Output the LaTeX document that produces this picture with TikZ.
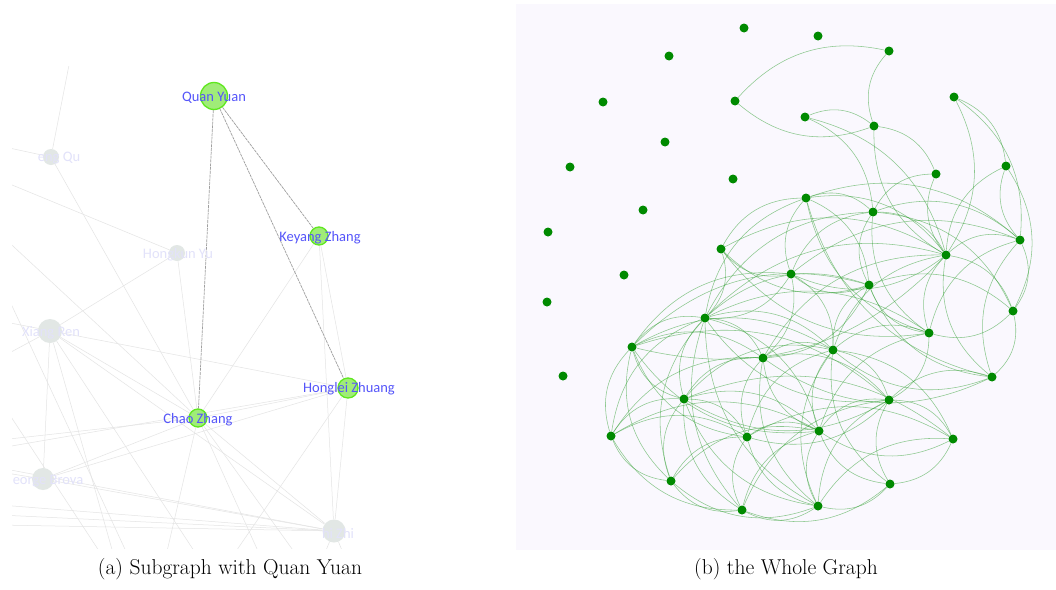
\documentclass[tikz,border=0pt]{standalone}
\usepackage{fontspec}
\newfontfamily\labfont{Carlito}
\pgfdeclarelayer{bg}
\pgfdeclarelayer{eg}
\pgfsetlayers{bg,eg,main}
\definecolor{bgl}{RGB}{250,248,254}
\definecolor{gnode}{RGB}{0,138,0}
\definecolor{gedge}{RGB}{50,160,50}
\definecolor{lgfill}{RGB}{160,236,120}
\definecolor{lgdraw}{RGB}{95,232,30}
\definecolor{labblue}{RGB}{85,85,250}
\definecolor{faintlab}{RGB}{226,226,250}
\definecolor{grayn}{RGB}{226,231,229}
\definecolor{fedge}{RGB}{228,228,228}
\begin{document}
\begin{tikzpicture}[x=1pt,y=-1pt,
  gn/.style={circle,fill=gnode,inner sep=0pt,minimum size=9pt},
  ge/.style={draw=gedge,opacity=0.55,line width=0.55pt},
  activen/.style={circle,fill=lgfill,draw=lgdraw,line width=1.3pt,inner sep=0pt},
  passiven/.style={circle,fill=grayn,inner sep=0pt},
  bluelab/.style={font=\labfont\fontsize{14.5}{16}\selectfont,text=labblue,inner sep=0pt},
  faintl/.style={font=\labfont\fontsize{14.5}{16}\selectfont,text=faintlab,inner sep=0pt},
  fe/.style={draw=fedge,line width=0.5pt},
  qe/.style={draw=gray!75,line width=0.7pt,dash pattern=on 3pt off 0.8pt},
  captext/.style={font=\fontsize{21.5}{24}\selectfont,inner sep=0pt}]
\useasboundingbox (0,0) rectangle (1056,589);
\begin{pgfonlayer}{bg}
\fill[white] (0,0) rectangle (1056,589);
\fill[bgl] (516,4) rectangle (1056,550);
\end{pgfonlayer}

% ---------------- left panel ----------------
\node[passiven,minimum size=16pt] (gq) at (51,157) {};
\node[passiven,minimum size=16pt] (hy) at (177,253) {};
\node[passiven,minimum size=24pt] (xr) at (50,331) {};
\node[passiven,minimum size=22pt] (gb) at (43,479) {};
\node[passiven,minimum size=23pt] (yz) at (334,531) {};
\node[activen,minimum size=27pt] (qy) at (214,96) {};
\node[activen,minimum size=18pt] (kz) at (319,236) {};
\node[activen,minimum size=20pt] (hz) at (348,388) {};
\node[activen,minimum size=18pt] (cz) at (198,418) {};

\node[faintl] (lgq) at (59,158) {eng Qu};
\node[faintl] (lhy) at (178,255) {Hongkun Yu};
\node[faintl] (lxr) at (51,333) {Xiang Ren};
\node[faintl] (lgb) at (48,481) {eorge Brova};
\node[faintl] (lyz) at (338,533) {hi Zhi};
\node[bluelab] (lqy) at (214,98) {Quan Yuan};
\node[bluelab] (lkz) at (320,238) {Keyang Zhang};
\node[bluelab] (lhz) at (349,389) {Honglei Zhuang};
\node[bluelab] (lcz) at (198,420) {Chao Zhang};

\coordinate (t1) at (70,60);
\coordinate (l1) at (0,146);
\coordinate (l2) at (0,180);
\coordinate (l3) at (0,234);
\coordinate (l4) at (0,321);
\coordinate (l5) at (0,358);
\coordinate (l6) at (0,440);
\coordinate (l7) at (0,468);
\coordinate (l8) at (0,505);
\coordinate (l9) at (0,525);
\coordinate (l10) at (0,472);
\coordinate (l11) at (0,280);
\coordinate (l12) at (0,400);
\coordinate (l13) at (0,448);
\coordinate (l14) at (0,515);
\coordinate (b1) at (200,560);
\coordinate (b2) at (230,560);
\coordinate (b3) at (165,560);
\coordinate (b4) at (262,560);
\coordinate (b5) at (300,560);
\coordinate (b6) at (322,560);
\coordinate (b7) at (346,560);
\coordinate (b8) at (130,560);
\coordinate (b9) at (115,560);
\coordinate (b10) at (105,560);

\begin{pgfonlayer}{eg}
\begin{scope}
\clip (12,66) rectangle (405,548);
\draw[fe] (gq) -- (t1);
\draw[fe] (gq) -- (l1);
\draw[fe] (gq) -- (cz);
\draw[fe] (l2) -- (hy);
\draw[fe] (hy) -- (xr);
\draw[fe] (hy) -- (cz);
\draw[fe] (l3) -- (cz);
\draw[fe] (l4) -- (hz);
\draw[fe] (xr) -- (cz);
\draw[fe] (xr) -- (gb);
\draw[fe] (xr) -- (yz);
\draw[fe] (xr) -- (b1);
\draw[fe] (xr) -- (b9);
\draw[fe] (xr) -- (l5);
\draw[fe] (kz) -- (cz);
\draw[fe] (kz) -- (hz);
\draw[fe] (kz) -- (yz);
\draw[fe] (hz) -- (yz);
\draw[fe] (hz) -- (cz);
\draw[fe] (hz) -- (b2);
\draw[fe] (gb) -- (hz);
\draw[fe] (cz) -- (gb);
\draw[fe] (cz) -- (yz);
\draw[fe] (cz) -- (l6);
\draw[fe] (cz) -- (b3);
\draw[fe] (cz) -- (b4);
\draw[fe] (cz) -- (b5);
\draw[fe] (gb) -- (yz);
\draw[fe] (l7) -- (yz);
\draw[fe] (l8) -- (yz);
\draw[fe] (l9) -- (yz);
\draw[fe] (l14) -- (yz);
\draw[fe] (gb) -- (l10);
\draw[fe] (yz) -- (b6);
\draw[fe] (yz) -- (b7);
\draw[fe] (l11) -- (b8);
\draw[fe] (l12) -- (b10);
\draw[fe] (l13) -- (hz);
\end{scope}
\draw[qe] (qy) -- (cz);
\draw[qe] (qy) -- (kz);
\draw[qe] (qy) -- (hz);
\end{pgfonlayer}

% ---------------- right panel ----------------
\foreach \n/\x/\y in {i1/744/28, i2/818/36, i3/669/56, i4/603/102, i5/665/142,
  i6/570/167, i7/733/179, i8/643/210, i9/548/232, i10/624/275, i11/547/302, i12/563/376,
  A/889/51, B/735/101, C/805/117, D/874/126, E/954/97, F/936/174, G/1006/166,
  H/806/198, I/873/212, J/1020/240, K/946/255, L/721/249, M/791/274, N/869/285,
  O/1013/311, P/929/333, Q/992/377,
  R/705/318, S/632/347, T/763/358, U/833/350, V/684/399, W/611/436, X/747/437,
  Y/819/431, Z/889/400, AA/953/439, AB/671/481, AC/742/510, AD/818/506, AE/890/484}
  \node[gn] (n\n) at (\x,\y) {};

\begin{pgfonlayer}{eg}
\foreach \a/\b in {B/A, C/D, D/F, E/K, E/J, E/G, J/O, O/Q, L/H, L/R, C/I, C/K,
  H/I, I/J, H/J, I/K, M/J, H/K, N/O, K/O, G/O, L/K, I/O, H/N,
  S/R, W/S, W/R, AB/W, AC/AB, AD/AC, AD/AB, AE/AD, AA/AE, Z/AA, U/Z, U/AA,
  R/T, T/U, R/U, S/T, S/U, V/X, X/Y, Y/Z, V/Y, W/X, W/Y, AB/X, AB/Y, AC/Y,
  AC/Z, X/AA, V/AA, R/Y, T/Z, S/Z,
  R/H, R/I, R/N, R/K, U/N, U/K, U/P, S/M, S/N, Y/P, Z/Q, R/P, T/K}
  \draw[ge] (n\a) to[bend left=30] (n\b);
\foreach \a/\b in {A/D, B/D, F/I, F/K, G/K, G/J, R/M, L/M, L/N, L/P, M/N, M/K,
  H/M, I/M, I/N, K/P, N/P, P/O, N/Q, K/Q, J/Q, J/P, H/P, I/P, D/K, H/Q, J/K,
  R/V, R/AB, R/AC, R/AD, S/V, S/X, S/Y, S/AB, T/V, T/X, T/Y, T/W, T/AD,
  U/V, U/Y, U/AE, U/AD, U/X, V/W, V/AB, V/AC, V/Z, W/AC, X/AC, X/AD, X/Z,
  Y/AD, Y/AE, Y/AA, Z/AE, Z/AD, AA/AD, AC/AE, R/Z, V/AD,
  T/M, U/M, U/Q, Z/P, T/Q, T/N, S/K}
  \draw[ge] (n\a) to[bend right=30] (n\b);
\end{pgfonlayer}

% ---------------- captions ----------------
\node[captext] (capa) at (230,569) {(a) Subgraph with Quan Yuan};
\node[captext] (capb) at (786,569) {(b) the Whole Graph};
\end{tikzpicture}
\end{document}
